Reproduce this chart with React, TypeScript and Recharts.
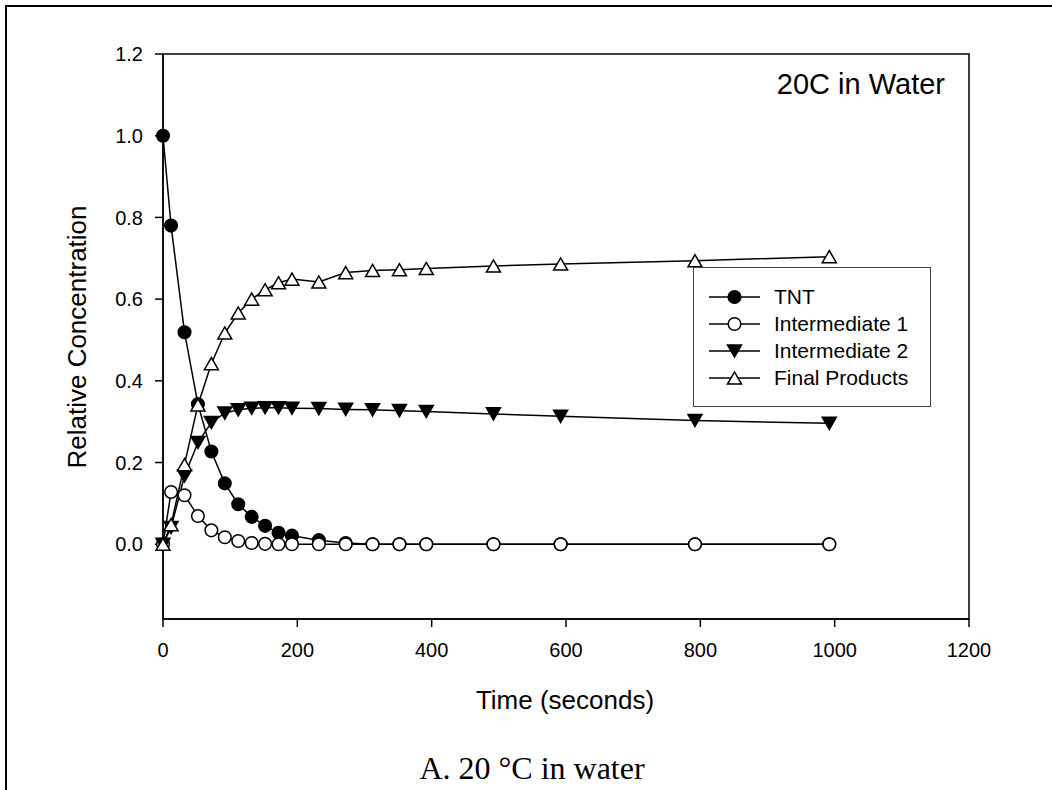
import React from 'react';
import { LineChart, Line, XAxis, YAxis, ReferenceArea } from 'recharts';

const times = [0, 12, 32, 52, 72, 92, 112, 132, 152, 172, 192, 232, 272, 312, 352, 392, 492, 592, 792, 992];
const tnt = [1.0, 0.78, 0.519, 0.343, 0.227, 0.149, 0.098, 0.067, 0.045, 0.028, 0.021, 0.01, 0.003, 0, 0, 0, 0, 0, 0, 0];
const intermediate1 = [0, 0.128, 0.12, 0.069, 0.034, 0.017, 0.008, 0.003, 0.001, 0, 0, 0, 0, 0, 0, 0, 0, 0, 0, 0];
const intermediate2 = [0, 0.041, 0.167, 0.249, 0.298, 0.321, 0.329, 0.333, 0.334, 0.334, 0.333, 0.332, 0.33, 0.329, 0.327, 0.325, 0.319, 0.313, 0.303, 0.296];
const finalProducts = [0, 0.048, 0.195, 0.341, 0.442, 0.517, 0.566, 0.6, 0.623, 0.64, 0.649, 0.642, 0.665, 0.67, 0.672, 0.675, 0.681, 0.686, 0.694, 0.704];

const xTicks = [0, 200, 400, 600, 800, 1000, 1200];
const yTicks = [0, 0.2, 0.4, 0.6, 0.8, 1.0, 1.2];
const yMin = -0.183;

const data = times.map((t, i) => ({
  t,
  tnt: tnt[i],
  int1: intermediate1[i],
  int2: intermediate2[i],
  final: finalProducts[i],
}));

type Marker = 'circleFilled' | 'circleOpen' | 'triDownFilled' | 'triUpOpen';

const drawMarker = (kind: Marker, cx: number, cy: number, key?: string) => {
  const s = 14;
  const h = s * 0.866;
  if (kind === 'circleFilled' || kind === 'circleOpen') {
    return (
      <circle key={key} cx={cx} cy={cy} r={6.3} fill={kind === 'circleFilled' ? '#000' : '#fff'} stroke="#000" strokeWidth={1.5} />
    );
  }
  if (kind === 'triDownFilled') {
    const pts = `${cx - s / 2},${cy - h / 2} ${cx + s / 2},${cy - h / 2} ${cx},${cy + h / 2}`;
    return <polygon key={key} points={pts} fill="#000" stroke="#000" strokeWidth={1.5} />;
  }
  const pts = `${cx - s / 2},${cy + h / 2} ${cx + s / 2},${cy + h / 2} ${cx},${cy - h / 2}`;
  return <polygon key={key} points={pts} fill="#fff" stroke="#000" strokeWidth={1.5} />;
};

const series: { key: string; name: string; marker: Marker }[] = [
  { key: 'tnt', name: 'TNT', marker: 'circleFilled' },
  { key: 'int1', name: 'Intermediate 1', marker: 'circleOpen' },
  { key: 'int2', name: 'Intermediate 2', marker: 'triDownFilled' },
  { key: 'final', name: 'Final Products', marker: 'triUpOpen' },
];

const font = '"Liberation Sans", Arial, sans-serif';

const LegendBox = () => (
  <div
    style={{
      position: 'absolute',
      left: 693,
      top: 267,
      width: 238,
      height: 140,
      border: '1.5px solid #444',
      background: '#fff',
      boxSizing: 'border-box',
      paddingTop: 15,
      fontFamily: font,
    }}
  >
    {series.map((s) => (
      <div key={s.key} style={{ display: 'flex', alignItems: 'center', height: 27 }}>
        <svg width={80} height={20} style={{ flex: 'none' }}>
          <line x1={15} y1={10} x2={66} y2={10} stroke="#000" strokeWidth={1.5} />
          {drawMarker(s.marker, 40.5, 10)}
        </svg>
        <span style={{ fontSize: 21, color: '#000', whiteSpace: 'nowrap' }}>{s.name}</span>
      </div>
    ))}
  </div>
);

export default function App() {
  return (
    <div style={{ position: 'absolute', left: 0, top: 0, width: 1052, height: 790, overflow: 'hidden', background: '#fff' }}>
      <div
        style={{
          position: 'absolute',
          left: 5,
          top: 5,
          width: 1200,
          height: 1000,
          borderLeft: '2.5px solid #000',
          borderTop: '2.5px solid #000',
        }}
      />
      <LineChart
        width={1052}
        height={790}
        data={data}
        margin={{ top: 54, right: 83, left: 83, bottom: 131 }}
        style={{ position: 'absolute', left: 0, top: 0 }}
      >
        <XAxis
          dataKey="t"
          type="number"
          domain={[0, 1200]}
          ticks={xTicks}
          height={40}
          tickSize={8}
          tickMargin={16}
          axisLine={{ stroke: '#000', strokeWidth: 1.5 }}
          tickLine={{ stroke: '#000', strokeWidth: 1.5 }}
          tick={{ fill: '#000', fontSize: 20, fontFamily: font }}
          interval={0}
        />
        <YAxis
          type="number"
          domain={[yMin, 1.2]}
          ticks={yTicks}
          width={80}
          tickSize={8}
          tickMargin={12}
          tickFormatter={(v: number) => v.toFixed(1)}
          axisLine={{ stroke: '#000', strokeWidth: 1.5 }}
          tickLine={{ stroke: '#000', strokeWidth: 1.5 }}
          tick={{ fill: '#000', fontSize: 20, fontFamily: font }}
          interval={0}
        />
        <ReferenceArea x1={0} x2={1200} y1={yMin} y2={1.2} fill="none" stroke="#000" strokeWidth={1.5} ifOverflow="extendDomain" />
        {series.map((s) => (
          <Line
            key={s.key}
            dataKey={s.key}
            name={s.name}
            type="linear"
            stroke="#000"
            strokeWidth={1.5}
            isAnimationActive={false}
            dot={(p: any) => drawMarker(s.marker, p.cx, p.cy, `${s.key}-${p.index}`)}
            activeDot={false}
          />
        ))}
      </LineChart>
      <LegendBox />
      <div style={{ position: 'absolute', right: 1052 - 945, top: 68, fontFamily: font, fontSize: 29, color: '#000', whiteSpace: 'nowrap' }}>
        20C in Water
      </div>
      <div
        style={{
          position: 'absolute',
          left: 77,
          top: 337,
          transform: 'translate(-50%, -50%) rotate(-90deg)',
          fontFamily: font,
          fontSize: 26,
          color: '#000',
          whiteSpace: 'nowrap',
        }}
      >
        Relative Concentration
      </div>
      <div
        style={{
          position: 'absolute',
          left: 565,
          top: 700,
          transform: 'translate(-50%, -50%)',
          fontFamily: font,
          fontSize: 26,
          color: '#000',
          whiteSpace: 'nowrap',
        }}
      >
        Time (seconds)
      </div>
      <div
        style={{
          position: 'absolute',
          left: 532,
          top: 768,
          transform: 'translate(-50%, -50%)',
          fontFamily: '"Liberation Serif", "DejaVu Serif", serif',
          fontSize: 32,
          color: '#000',
          whiteSpace: 'nowrap',
        }}
      >
        A. 20 °C in water
      </div>
    </div>
  );
}
